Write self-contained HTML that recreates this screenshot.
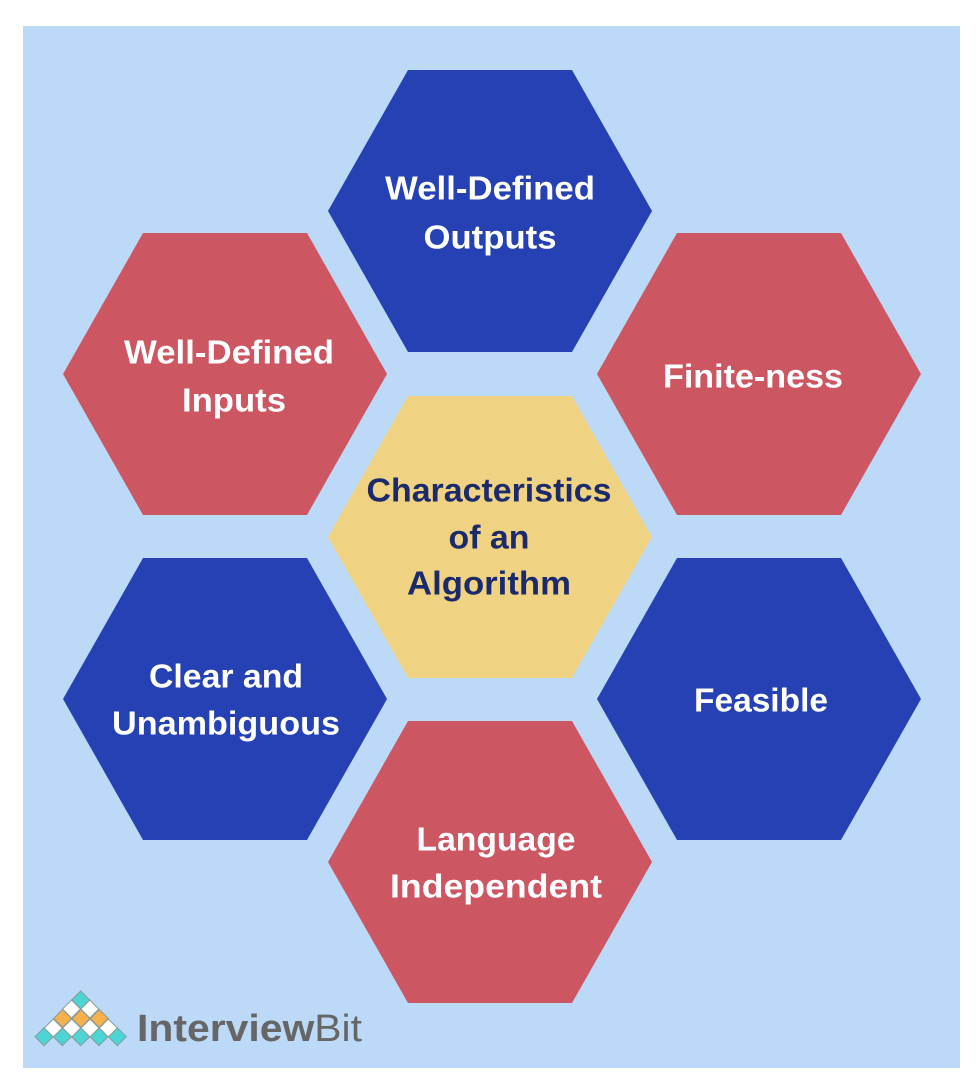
<!DOCTYPE html>
<html><head><style>
html,body{margin:0;padding:0;background:#fff;}
svg{display:block;}
text{font-family:"Liberation Sans",sans-serif;font-weight:bold;}
</style></head><body>
<svg width="976" height="1082" viewBox="0 0 976 1082" xmlns="http://www.w3.org/2000/svg">
<rect x="0" y="0" width="976" height="1082" fill="#fff"/>
<rect x="23" y="26" width="937" height="1042" fill="#bcdaf7"/>
<defs>
<polygon id="hx" points="0,141 80,0 244,0 324,141 244,282 80,282"/>
</defs>
<use href="#hx" x="328" y="70" fill="#2541b3"/>
<use href="#hx" x="63" y="233" fill="#cd5663"/>
<use href="#hx" x="597" y="233" fill="#cd5663"/>
<use href="#hx" x="328" y="396" fill="#f0d283"/>
<use href="#hx" x="63" y="558" fill="#2541b3"/>
<use href="#hx" x="597" y="558" fill="#2541b3"/>
<use href="#hx" x="328" y="721" fill="#cd5663"/>
<g font-size="33" fill="#fff" text-anchor="middle" dominant-baseline="central" lengthAdjust="spacingAndGlyphs">
<text x="490" y="188" textLength="210" lengthAdjust="spacingAndGlyphs">Well-Defined</text>
<text x="490" y="237" textLength="133" lengthAdjust="spacingAndGlyphs">Outputs</text>
<text x="229" y="352" textLength="210" lengthAdjust="spacingAndGlyphs">Well-Defined</text>
<text x="234" y="400" textLength="104" lengthAdjust="spacingAndGlyphs">Inputs</text>
<text x="753" y="376" textLength="180" lengthAdjust="spacingAndGlyphs">Finite-ness</text>
<text x="226" y="676" textLength="154" lengthAdjust="spacingAndGlyphs">Clear and</text>
<text x="226" y="723" textLength="228" lengthAdjust="spacingAndGlyphs">Unambiguous</text>
<text x="761" y="700" textLength="134" lengthAdjust="spacingAndGlyphs">Feasible</text>
<text x="496" y="839" textLength="159" lengthAdjust="spacingAndGlyphs">Language</text>
<text x="496" y="886" textLength="212" lengthAdjust="spacingAndGlyphs">Independent</text>
</g>
<g font-size="33" fill="#1b2a6b" text-anchor="middle" dominant-baseline="central">
<text x="489" y="490" textLength="245" lengthAdjust="spacingAndGlyphs">Characteristics</text>
<text x="489" y="537" textLength="81" lengthAdjust="spacingAndGlyphs">of an</text>
<text x="489" y="583" textLength="164" lengthAdjust="spacingAndGlyphs">Algorithm</text>
</g>
<g stroke="#8a9a9a" stroke-width="1">
<g fill="#4dd4d4">
<polygon points="80.7,991 89.7,1000 80.7,1009 71.7,1000"/>
<polygon points="44,1027.7 53,1036.7 44,1045.7 35,1036.7"/>
<polygon points="62.3,1027.7 71.3,1036.7 62.3,1045.7 53.3,1036.7"/>
<polygon points="80.7,1027.7 89.7,1036.7 80.7,1045.7 71.7,1036.7"/>
<polygon points="99,1027.7 108,1036.7 99,1045.7 90,1036.7"/>
<polygon points="117.3,1027.7 126.3,1036.7 117.3,1045.7 108.3,1036.7"/>
</g>
<g fill="#fff">
<polygon points="71.5,1000 80.5,1009 71.5,1018 62.5,1009"/>
<polygon points="89.8,1000 98.8,1009 89.8,1018 80.8,1009"/>
<polygon points="53.3,1019 62.3,1028 53.3,1037 44.3,1028"/>
<polygon points="71.7,1019 80.7,1028 71.7,1037 62.7,1028"/>
<polygon points="90,1019 99,1028 90,1037 81,1028"/>
<polygon points="108.3,1019 117.3,1028 108.3,1037 99.3,1028"/>
</g>
<g fill="#f6b04c">
<polygon points="62.7,1009.5 71.7,1018.5 62.7,1027.5 53.7,1018.5"/>
<polygon points="81,1009.5 90,1018.5 81,1027.5 72,1018.5"/>
<polygon points="99.3,1009.5 108.3,1018.5 99.3,1027.5 90.3,1018.5"/>
</g>
</g>
<text x="137" y="1041" font-size="38" fill="#666" style="font-weight:bold" textLength="225" lengthAdjust="spacingAndGlyphs">Interview<tspan style="font-weight:normal">Bit</tspan></text>
</svg>
</body></html>
